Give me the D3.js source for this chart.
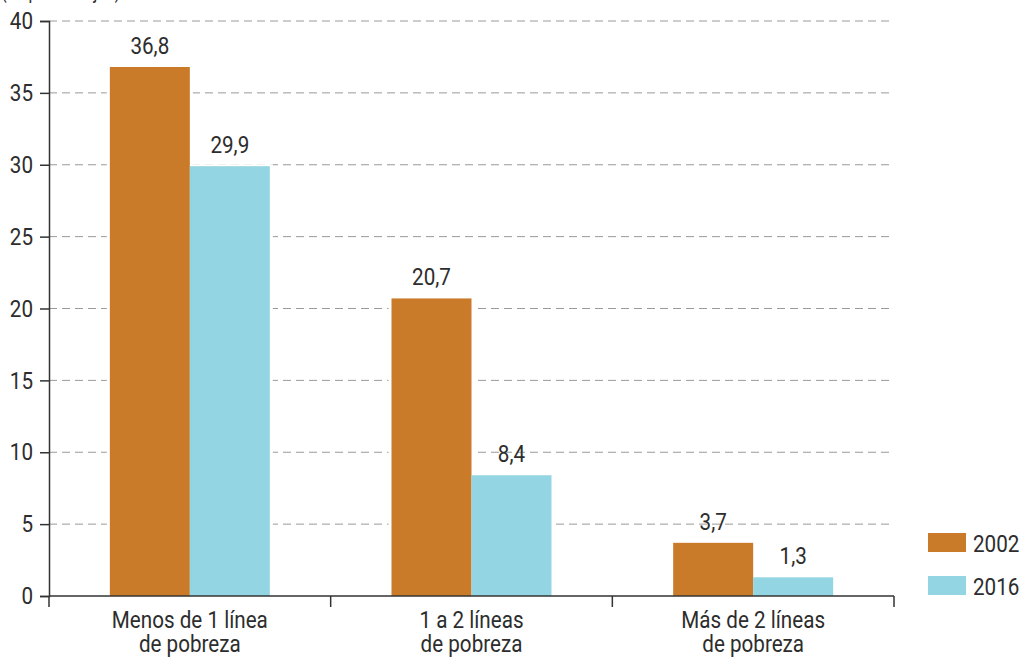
<!DOCTYPE html>
<html>
<head>
<meta charset="utf-8">
<script src="https://cdn.jsdelivr.net/npm/d3@7"></script>
<style>
  body { margin: 0; background: #fff; }
  svg text { font-family: "Roboto", sans-serif; font-weight: 400; fill: #2d2d2d; }
</style>
</head>
<body>
<svg id="chart" width="1026" height="658"></svg>
<script>
// Data
const categories = [
  ['Menos de 1 línea', 'de pobreza'],
  ['1 a 2 líneas', 'de pobreza'],
  ['Más de 2 líneas', 'de pobreza']
];
const series = ['2002', '2016'];
const values2002 = [36.8, 20.7, 3.7];
const values2016 = [29.9, 8.4, 1.3];
const yTicks = [0, 5, 10, 15, 20, 25, 30, 35, 40];
const colours = ['#c97b2a', '#93d5e2'];

const svg = d3.select('#chart');

// Plot area
const plotLeft = 49, plotRight = 894, plotTop = 21, plotBottom = 596;
// condensed look: Roboto squeezed horizontally
const fs = 24, sx = 0.86;

const catKeys = categories.map(c => c.join(' '));
const x = d3.scaleBand().domain(catKeys).range([plotLeft, plotRight]);
const bw = x.bandwidth();
const xs = d3.scaleBand().domain(series).range([bw / 2 - 80, bw / 2 + 80]);
const y = d3.scaleLinear().domain([0, 40]).range([plotBottom, plotTop]);
const colour = d3.scaleOrdinal().domain(series).range(colours);

const rows = [];
catKeys.forEach((k, i) => {
  rows.push({ cat: k, s: '2002', v: values2002[i] });
  rows.push({ cat: k, s: '2016', v: values2016[i] });
});

// place a text at (px, py) and squeeze it
const squeeze = (sel, px, py) => sel
  .attr('x', 0).attr('y', 0)
  .attr('font-size', fs)
  .attr('transform', (d, i) => `translate(${px(d, i)},${py(d, i)}) scale(${sx},1)`);

// Title (mostly cut off at the top)
svg.append('text')
  .attr('transform', `translate(1,-2) scale(0.75,1)`)
  .attr('font-size', 22)
  .text('(en porcentajes)');

// Dashed gridlines
svg.append('g')
  .selectAll('line')
  .data(yTicks.filter(d => d > 0))
  .join('line')
    .attr('x1', plotLeft)
    .attr('x2', plotRight)
    .attr('y1', d => y(d))
    .attr('y2', d => y(d))
    .attr('stroke', '#9a9a9a')
    .attr('stroke-width', 1)
    .attr('stroke-dasharray', '8,5');

// white halo so gridlines stop short of the bars
svg.append('g')
  .selectAll('rect')
  .data(rows)
  .join('rect')
    .attr('x', d => x(d.cat) + xs(d.s) - 3)
    .attr('y', d => y(d.v) - 2)
    .attr('width', xs.bandwidth() + 6)
    .attr('height', d => y(0) - y(d.v) + 2)
    .attr('fill', '#fff');

// Bars
svg.append('g')
  .selectAll('rect')
  .data(rows)
  .join('rect')
    .attr('x', d => x(d.cat) + xs(d.s))
    .attr('y', d => y(d.v))
    .attr('width', xs.bandwidth())
    .attr('height', d => y(0) - y(d.v))
    .attr('fill', d => colour(d.s));

// Value labels
svg.append('g')
  .selectAll('text')
  .data(rows)
  .join('text')
    .attr('text-anchor', 'middle')
    .text(d => d.v.toFixed(1).replace('.', ','))
    .call(squeeze, d => x(d.cat) + xs(d.s) + xs.bandwidth() / 2, d => y(d.v) - 13);

// Y axis
const yAxis = svg.append('g')
  .attr('transform', `translate(${plotLeft},0)`)
  .call(d3.axisLeft(y).tickValues(yTicks).tickSize(9).tickPadding(7).tickFormat(d3.format('d')));
yAxis.select('.domain').attr('stroke', '#333').attr('stroke-width', 1.5);
yAxis.selectAll('.tick line').attr('stroke', '#333').attr('stroke-width', 1.5);
yAxis.selectAll('.tick text')
  .attr('font-size', fs)
  .attr('font-family', 'Roboto, sans-serif')
  .attr('fill', '#2d2d2d')
  .attr('x', -16 / sx)
  .attr('transform', `scale(${sx},1)`);

// X axis
const xAxisLine = svg.append('g');
xAxisLine.append('line')
  .attr('x1', plotLeft).attr('x2', plotRight)
  .attr('y1', plotBottom).attr('y2', plotBottom)
  .attr('stroke', '#333').attr('stroke-width', 1.5);
const xEdges = [plotLeft].concat(catKeys.map(k => x(k) + bw));
xAxisLine.selectAll('.xtick')
  .data(xEdges)
  .join('line')
    .attr('class', 'xtick')
    .attr('x1', d => d).attr('x2', d => d)
    .attr('y1', plotBottom).attr('y2', plotBottom + 11)
    .attr('stroke', '#333').attr('stroke-width', 1.5);

// Category labels, two lines each
const catLabels = svg.append('g')
  .selectAll('text')
  .data(categories)
  .join('text')
    .attr('text-anchor', 'middle')
    .call(squeeze, (d, i) => x(catKeys[i]) + bw / 2, () => 628);
catLabels.selectAll('tspan')
  .data(d => d)
  .join('tspan')
    .attr('x', 0)
    .attr('dy', (d, j) => j === 0 ? 0 : 24)
    .text(d => d);

// Legend
const legend = svg.append('g')
  .selectAll('g')
  .data(series)
  .join('g')
    .attr('transform', (d, i) => `translate(928,${533 + i * 43})`);
legend.append('rect')
  .attr('width', 38)
  .attr('height', 19)
  .attr('fill', d => colour(d));
legend.append('text')
  .text(d => d)
  .call(squeeze, () => 45, () => 19);
</script>
</body>
</html>
